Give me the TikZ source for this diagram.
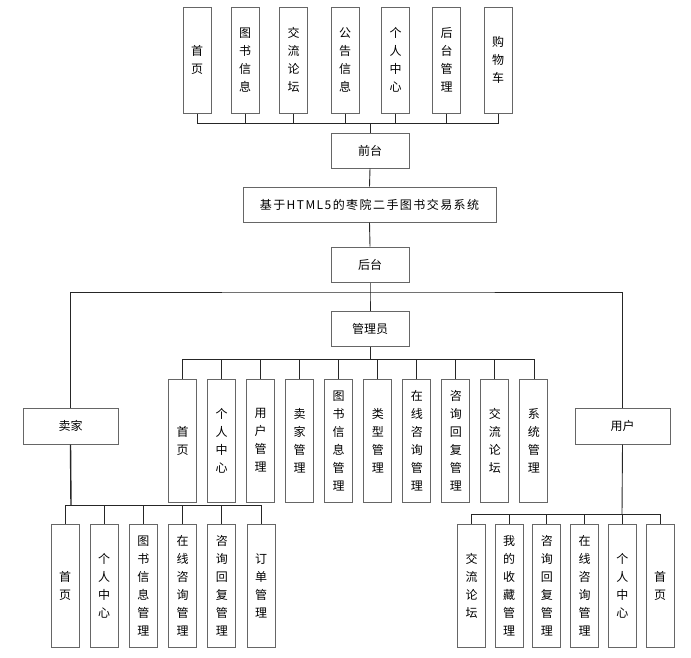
\documentclass[tikz,border=0pt]{standalone}
\usepackage{fontspec}
\setmainfont{Noto Sans CJK SC}
\newfontfamily\titlefont[LetterSpace=12]{Noto Sans CJK SC}
\tikzset{
  box/.style={draw=black!60,line width=1pt,fill=white,inner sep=0pt,align=center,
    font=\fontsize{12}{18}\selectfont},
  widebox/.style={box,minimum width=78pt,minimum height=35pt},
  rolebox/.style={box,minimum width=95pt,minimum height=36pt},
  topbox/.style={box,minimum width=28pt,minimum height=106pt},
  tallbox/.style={box,minimum width=28pt,minimum height=123pt},
  link/.style={draw=black!85,line width=0.9pt}
}
\begin{document}
\begin{tikzpicture}[x=1pt,y=-1pt]
\useasboundingbox (0,0) rectangle (691,657);

\foreach \x/\t [count=\i] in {197/首\\页,245/图\\书\\信\\息,293.5/交\\流\\论\\坛,345/公\\告\\信\\息,
    395.5/个\\人\\中\\心,446.5/后\\台\\管\\理,498/购\\物\\车}
  \node[topbox] (f\i) at (\x,60) {\t};
\node[widebox] (qt) at (370,150.5) {前台};
\node[box,minimum width=253pt,minimum height=35pt] (sys) at (369.5,204.5)
  {\titlefont 基于HTML5的枣院二手图书交易系统};
\node[widebox] (ht) at (370,264.5) {后台};
\node[widebox] (adm) at (370,328.5) {管理员};
\node[rolebox] (seller) at (70.5,426) {卖家};
\node[rolebox] (user) at (622.5,426) {用户};

\foreach \t [count=\i] in {首\\页,个\\人\\中\\心,用\\户\\管\\理,卖\\家\\管\\理,图\\书\\信\\息\\管\\理,
    类\\型\\管\\理,在\\线\\咨\\询\\管\\理,咨\\询\\回\\复\\管\\理,交\\流\\论\\坛,系\\统\\管\\理}
  \node[tallbox] (a\i) at ({182.5+39.05*(\i-1)},440.5) {\t};
\foreach \t [count=\i] in {首\\页,个\\人\\中\\心,图\\书\\信\\息\\管\\理,在\\线\\咨\\询\\管\\理,
    咨\\询\\回\\复\\管\\理,订\\单\\管\\理}
  \node[tallbox] (s\i) at ({65+39.2*(\i-1)},585.5) {\t};
\foreach \t [count=\i] in {交\\流\\论\\坛,我\\的\\收\\藏\\管\\理,咨\\询\\回\\复\\管\\理,
    在\\线\\咨\\询\\管\\理,个\\人\\中\\心,首\\页}
  \node[tallbox] (u\i) at ({471.5+37.7*(\i-1)},585.5) {\t};

\coordinate (fbus) at (370,123);
\coordinate (hbus) at (370,292);
\coordinate (abus) at (370,359);
\coordinate (sbus) at (71,505);
\coordinate (ubus) at (622,514);

\draw[link] (qt.north) -- (fbus);
\foreach \i in {1,...,7} \draw[link] (f\i.south) |- (fbus);
\draw[link] (qt.south) -- (sys.north);
\draw[link] (sys.south) -- (ht.north);
\draw[link] (ht.south) -- (hbus) -- (adm.north);
\draw[link] (seller.north) |- (hbus) -| (user.north);
\draw[link] (adm.south) -- (abus);
\foreach \i in {1,...,10} \draw[link] (a\i.north) |- (abus);
\draw[link,line width=1.4pt] (seller.south) -- (sbus);
\foreach \i in {1,...,6} \draw[link] (s\i.north) |- (sbus);
\draw[link] (user.south) -- (ubus);
\foreach \i in {1,...,6} \draw[link] (u\i.north) |- (ubus);
\end{tikzpicture}
\end{document}
